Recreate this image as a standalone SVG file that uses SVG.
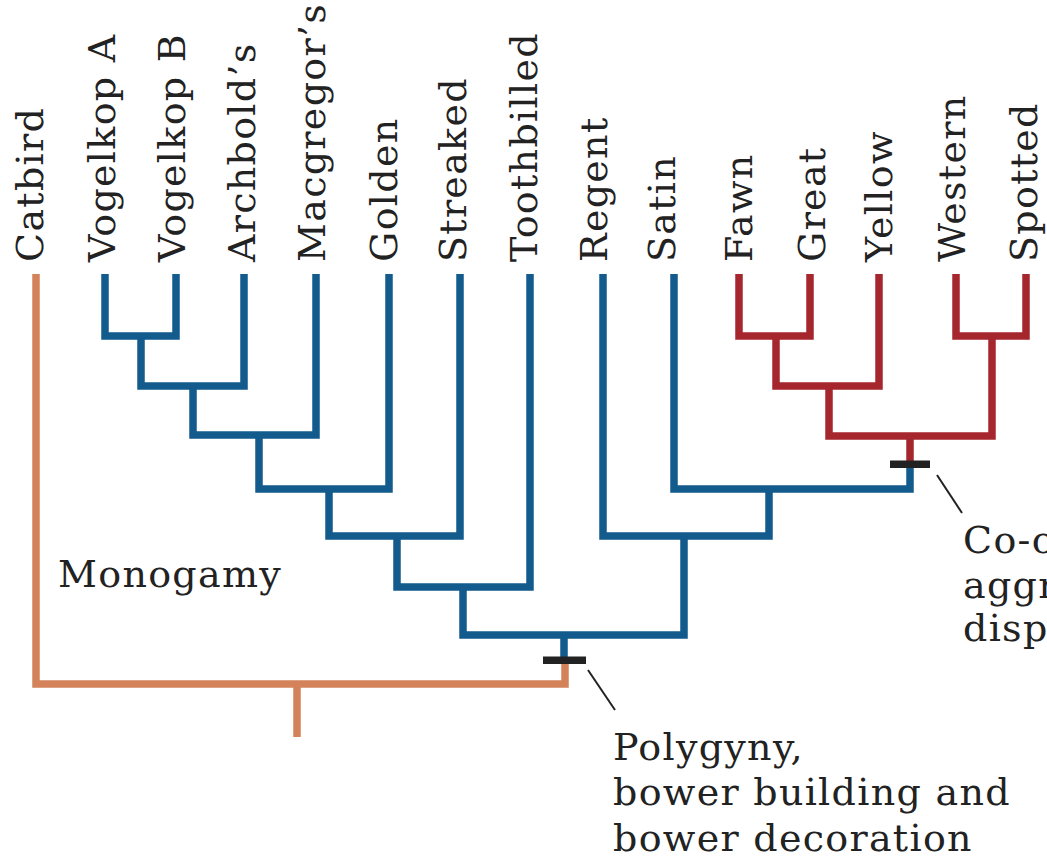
<svg xmlns="http://www.w3.org/2000/svg" width="1047" height="859" viewBox="0 0 1047 859">
<style>
.lbl{font-family:"DejaVu Serif","Liberation Serif",serif;font-size:38px;fill:#222;letter-spacing:1.3px}
.br{fill:none;stroke-width:7.5;stroke-linejoin:miter;stroke-linecap:butt}
.blue{stroke:#135b8c}
.red{stroke:#a6262e}
.orange{stroke:#d4825a}
.tick{fill:#222}
.lead{stroke:#222;stroke-width:2;fill:none}
</style>
<rect width="1047" height="859" fill="#fff"/>
<g id="connectors">
<path class="br orange" d="M36,274 V684 H565 V662"/>
<path class="br orange" d="M297,684 V737"/>
<path class="br blue" d="M105,274 V336 H176 V274"/>
<path class="br blue" d="M141,336 V386 H244 V274"/>
<path class="br blue" d="M193,386 V435 H316 V274"/>
<path class="br blue" d="M259,435 V489 H389 V274"/>
<path class="br blue" d="M329,489 V536 H460 V274"/>
<path class="br blue" d="M397,536 V587 H530 V274"/>
<path class="br blue" d="M463,587 V635 H684 V536"/>
<path class="br blue" d="M603,274 V536 H769 V489"/>
<path class="br blue" d="M674,274 V489 H910 V462"/>
<path class="br blue" d="M564,635 V658"/>
<path class="br red" d="M739,274 V336 H810 V274"/>
<path class="br red" d="M776,336 V386 H879 V274"/>
<path class="br red" d="M956,274 V336 H1026 V274"/>
<path class="br red" d="M829,386 V436 H992 V336"/>
<path class="br red" d="M910,436 V464"/>
<rect class="tick" x="543" y="656.5" width="43" height="7.5"/>
<rect class="tick" x="890" y="460.5" width="40" height="7.5"/>
<path class="lead" d="M588,670 L615,710"/>
<path class="lead" d="M937,475 L962,513"/>
</g>
<g id="catbird"><text class="lbl" transform="translate(43,262) rotate(-90)">Catbird</text></g>
<g id="vogelkopA"><text class="lbl" transform="translate(115,262) rotate(-90)">Vogelkop A</text></g>
<g id="vogelkopB"><text class="lbl" transform="translate(185,262) rotate(-90)">Vogelkop B</text></g>
<g id="archbolds"><text class="lbl" transform="translate(255,262) rotate(-90)">Archbold’s</text></g>
<g id="macgregors"><text class="lbl" transform="translate(325,262) rotate(-90)">Macgregor’s</text></g>
<g id="golden"><text class="lbl" transform="translate(397,262) rotate(-90)">Golden</text></g>
<g id="streaked"><text class="lbl" transform="translate(466,262) rotate(-90)">Streaked</text></g>
<g id="toothbilled"><text class="lbl" transform="translate(537,262) rotate(-90)">Toothbilled</text></g>
<g id="regent"><text class="lbl" transform="translate(607,262) rotate(-90)">Regent</text></g>
<g id="satin"><text class="lbl" transform="translate(675,262) rotate(-90)">Satin</text></g>
<g id="fawn"><text class="lbl" transform="translate(752,262) rotate(-90)">Fawn</text></g>
<g id="great"><text class="lbl" transform="translate(825,262) rotate(-90)">Great</text></g>
<g id="yellow"><text class="lbl" transform="translate(892,262) rotate(-90)">Yellow</text></g>
<g id="western"><text class="lbl" transform="translate(965,262) rotate(-90)">Western</text></g>
<g id="spotted"><text class="lbl" transform="translate(1037,262) rotate(-90)">Spotted</text></g>
<g id="monogamy"><text class="lbl" x="58" y="587">Monogamy</text></g>
<g id="polygyny"><text class="lbl" x="613" y="760">Polygyny,</text><text class="lbl" x="613" y="805">bower building and</text><text class="lbl" x="613" y="851">bower decoration</text></g>
<g id="cooperative"><text class="lbl" x="963" y="553">Co-o</text><text class="lbl" x="963" y="598">aggr</text><text class="lbl" x="963" y="641">disp</text></g>
</svg>
